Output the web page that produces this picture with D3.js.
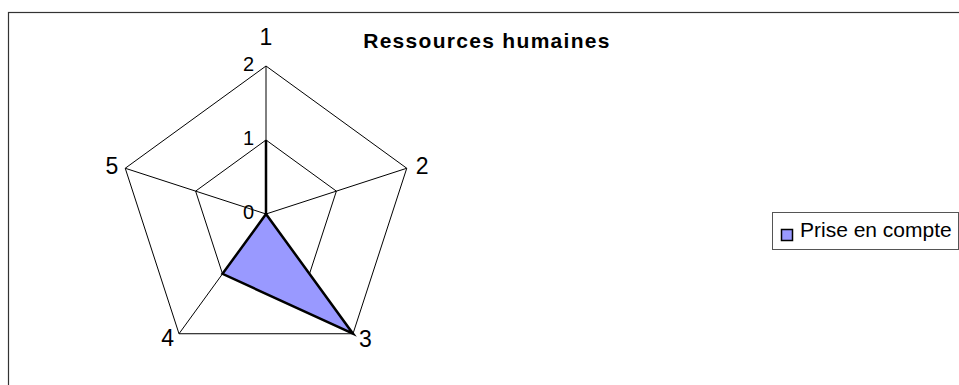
<!DOCTYPE html>
<html>
<head>
<meta charset="utf-8">
<script src="https://cdn.jsdelivr.net/npm/d3@7"></script>
<style>
  body { margin: 0; background: #fff; }
  svg { display: block; font-family: Arial, "Liberation Sans", sans-serif; }
</style>
</head>
<body>
<div id="chart"></div>
<script>
// data
const axes = ["1", "2", "3", "4", "5"];
const values = [1, 0, 2, 1, 0];
const ticks = [0, 1, 2];
const seriesName = "Prise en compte";
const title = "Ressources humaines";

const width = 959, height = 385;
const cx = 266, cy = 214, radius = 148;

const svg = d3.select("#chart").append("svg")
    .attr("width", width)
    .attr("height", height);

// outer chart frame (runs off the canvas right and bottom)
svg.append("rect")
    .attr("x", 8.5).attr("y", 12.5)
    .attr("width", 1000).attr("height", 400)
    .attr("fill", "#fff")
    .attr("stroke", "#333")
    .attr("stroke-width", 1.2);

const r = d3.scaleLinear().domain([0, 2]).range([0, radius]);
const angle = d3.scalePoint().domain(axes).range([0, 2 * Math.PI * 4 / 5]);

function pt(axis, v) {
    const a = angle(axis);
    return [cx + r(v) * Math.sin(a), cy - r(v) * Math.cos(a)];
}

const g = svg.append("g");

// grid pentagons
ticks.filter(t => t > 0).forEach(t => {
    g.append("path")
        .attr("d", d3.line()(axes.map(a => pt(a, t))) + "Z")
        .attr("fill", "none")
        .attr("stroke", "#000")
        .attr("stroke-width", 1);
});

// spokes
axes.forEach(a => {
    const p = pt(a, 2);
    g.append("line")
        .attr("x1", cx).attr("y1", cy)
        .attr("x2", p[0]).attr("y2", p[1])
        .attr("stroke", "#000")
        .attr("stroke-width", 1);
});

// series polygon
g.append("path")
    .attr("d", d3.line()(axes.map((a, i) => pt(a, values[i]))) + "Z")
    .attr("fill", "#9999ff")
    .attr("stroke", "#000")
    .attr("stroke-width", 2.5)
    .attr("stroke-linejoin", "miter");

// tick labels along axis 1
ticks.forEach(t => {
    const p = pt(axes[0], t);
    g.append("text")
        .attr("x", p[0] - 12)
        .attr("y", p[1] + 5)
        .attr("text-anchor", "end")
        .attr("font-size", 20)
        .text(t);
});

// axis category labels
const labelOffset = [
    {dx: 0, dy: -21, anchor: "middle"},
    {dx: 9, dy: 6, anchor: "start"},
    {dx: 6, dy: 13, anchor: "start"},
    {dx: -5, dy: 12, anchor: "end"},
    {dx: -7, dy: 6, anchor: "end"}
];
axes.forEach((a, i) => {
    const p = pt(a, 2);
    g.append("text")
        .attr("x", p[0] + labelOffset[i].dx)
        .attr("y", p[1] + labelOffset[i].dy)
        .attr("text-anchor", labelOffset[i].anchor)
        .attr("font-size", 23)
        .text(a);
});

// title
svg.append("text")
    .attr("x", 487).attr("y", 48)
    .attr("text-anchor", "middle")
    .attr("font-size", 21)
    .attr("font-weight", "bold")
    .attr("letter-spacing", 1.3)
    .text(title);

// legend
const lg = svg.append("g").attr("transform", "translate(772, 212)");
lg.append("rect")
    .attr("x", 0.5).attr("y", 0.5)
    .attr("width", 186).attr("height", 37)
    .attr("fill", "#fff")
    .attr("stroke", "#555")
    .attr("stroke-width", 1);
lg.append("rect")
    .attr("x", 9.5).attr("y", 17.5)
    .attr("width", 11).attr("height", 11)
    .attr("fill", "#9999ff")
    .attr("stroke", "#000")
    .attr("stroke-width", 1.5);
lg.append("text")
    .attr("x", 28).attr("y", 25)
    .attr("font-size", 21)
    .text(seriesName);
</script>
</body>
</html>
